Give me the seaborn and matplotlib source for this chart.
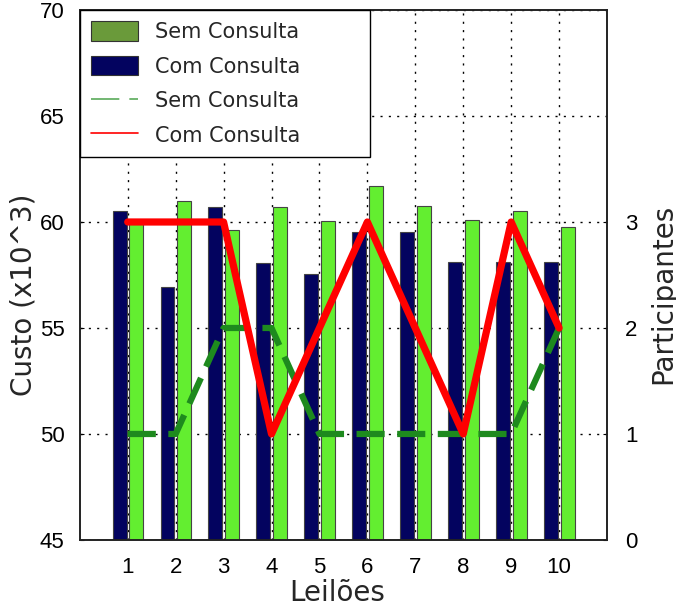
import numpy as np
import pandas as pd
import seaborn as sns
import matplotlib
matplotlib.use("Agg")
import matplotlib.pyplot as plt
from matplotlib.patches import Patch
from matplotlib.lines import Line2D

# Leilões e custos (x10^3)
leiloes = [1, 2, 3, 4, 5, 6, 7, 8, 9, 10]
custo_com = [60.5, 56.95, 60.7, 58.08, 57.55, 59.55, 59.55, 58.1, 58.1, 58.12]
custo_sem = [60.0, 61.0, 59.6, 60.7, 60.05, 61.7, 60.75, 60.08, 60.52, 59.78]
# Número de participantes
part_com = [3, 3, 3, 1, 2, 3, 2, 1, 3, 2]
part_sem = [1, 1, 2, 2, 1, 1, 1, 1, 1, 2]

df = pd.DataFrame({
    "leilao": leiloes,
    "custo_com": custo_com,
    "custo_sem": custo_sem,
    "part_com": part_com,
    "part_sem": part_sem,
})

sns.set_style("white")
plt.rcParams["font.family"] = ["DejaVu Sans"]

NAVY = "#03035f"
LIME = "#63ee30"
OLIVE = "#6a9a3a"

fig = plt.figure(figsize=(6.76, 6.10), dpi=100)
ax = fig.add_axes([0.118, 0.1148, 0.780, 0.8688])

ax.grid(True, color="black", linestyle=(0, (1.5, 4.5)), linewidth=1.0)
ax.set_axisbelow(True)

ax.bar(df["leilao"] - 0.17, df["custo_com"], width=0.29, color=NAVY,
       edgecolor="#444444", linewidth=0.8, zorder=2)
ax.bar(df["leilao"] + 0.18, df["custo_sem"], width=0.29, color=LIME,
       edgecolor="#444444", linewidth=0.8, zorder=2)

ax.set_xlim(0, 11)
ax.set_ylim(45, 70)
ax.set_xticks(leiloes)
ax.set_yticks([45, 50, 55, 60, 65, 70])

ax2 = ax.twinx()
sns.lineplot(data=df, x="leilao", y="part_sem", ax=ax2, color="#1e8a1e",
             linewidth=4.5, zorder=3)
ax2.lines[-1].set_dashes([4.5, 2.0])
sns.lineplot(data=df, x="leilao", y="part_com", ax=ax2, color="#ff0000",
             linewidth=5.2, zorder=4)
ax2.set_ylim(0, 5)
ax2.set_yticks([0, 1, 2, 3])
ax2.set_xlim(0, 11)

for lab in ax.get_xticklabels() + ax.get_yticklabels() + ax2.get_yticklabels():
    lab.set_fontfamily("Liberation Sans")
    lab.set_fontsize(16)

ax.set_xlabel("Leilões", fontsize=20)
ax.set_ylabel("Custo (x10^3)", fontsize=20)
ax2.set_ylabel("Participantes", fontsize=20)
ax.xaxis.set_label_coords(0.488, -0.074)
ax.yaxis.set_label_coords(-0.080, 0.462)
ax2.yaxis.set_label_coords(1.080, 0.465)

for a in (ax, ax2):
    a.tick_params(direction="in", length=3, width=0.8, colors="black")
    for s in a.spines.values():
        s.set_color("#222222")
        s.set_linewidth(1.2)
ax.tick_params(axis="y", pad=11)
ax.tick_params(axis="x", pad=12)
ax2.tick_params(axis="y", pad=13)

handles = [
    Patch(facecolor=OLIVE, edgecolor="#333333", linewidth=0.8, label="Sem Consulta"),
    Patch(facecolor=NAVY, edgecolor="#333333", linewidth=0.8, label="Com Consulta"),
    Line2D([], [], color="#5aaa5a", linewidth=1.2, dashes=[17, 6], label="Sem Consulta"),
    Line2D([], [], color="#ff0000", linewidth=1.2, label="Com Consulta"),
]
leg = ax2.legend(handles=handles, loc="upper left", bbox_to_anchor=(0, 1, 0.55, 0),
                 mode="expand", borderaxespad=0, fancybox=False, framealpha=1,
                 edgecolor="black", fontsize=15, handlelength=2.25,
                 handleheight=1.05, labelspacing=0.66, handletextpad=0.8,
                 borderpad=0.55)
leg.get_frame().set_linewidth(1.0)
leg.set_zorder(10)

fig.savefig("out.png", dpi=100)
